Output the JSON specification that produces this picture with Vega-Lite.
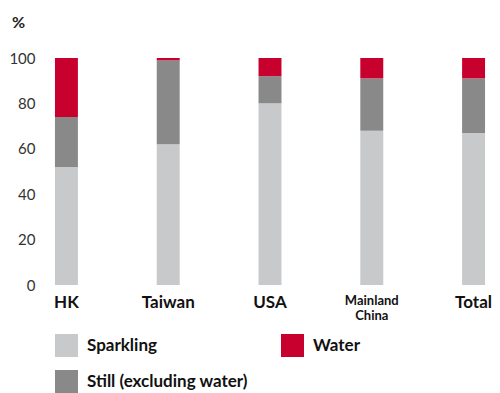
{
  "$schema": "https://vega.github.io/schema/vega-lite/v6.json",
  "autosize": {"type": "none"},
  "padding": {"left": 40, "top": 58, "right": 0, "bottom": 108},
  "width": 460,
  "height": 227,
  "background": "white",
  "config": {
    "view": {"stroke": null},
    "font": "Lato"
  },
  "data": {
    "values": [
      {"region": "HK", "type": "Sparkling", "share": 52},
      {"region": "HK", "type": "Still (excluding water)", "share": 22},
      {"region": "HK", "type": "Water", "share": 26},
      {"region": "Taiwan", "type": "Sparkling", "share": 62},
      {"region": "Taiwan", "type": "Still (excluding water)", "share": 37},
      {"region": "Taiwan", "type": "Water", "share": 1},
      {"region": "USA", "type": "Sparkling", "share": 80},
      {"region": "USA", "type": "Still (excluding water)", "share": 12},
      {"region": "USA", "type": "Water", "share": 8},
      {"region": "Mainland China", "type": "Sparkling", "share": 68},
      {"region": "Mainland China", "type": "Still (excluding water)", "share": 23},
      {"region": "Mainland China", "type": "Water", "share": 9},
      {"region": "Total", "type": "Sparkling", "share": 67},
      {"region": "Total", "type": "Still (excluding water)", "share": 24},
      {"region": "Total", "type": "Water", "share": 9}
    ]
  },
  "mark": {"type": "bar"},
  "encoding": {
    "x": {
      "field": "region",
      "type": "nominal",
      "sort": ["HK", "Taiwan", "USA", "Mainland China", "Total"],
      "scale": {"paddingInner": 0.7745, "paddingOuter": 0.147},
      "axis": {
        "title": null,
        "domain": false,
        "ticks": false,
        "labelAngle": 0,
        "labelPadding": 9,
        "labelBaseline": "top",
        "labelFontWeight": "bold",
        "labelColor": "#111111",
        "labelFontSize": {"condition": {"test": "datum.value == 'Mainland China'", "value": 13}, "value": 17},
        "labelLineHeight": 15,
        "labelExpr": "datum.value == 'Mainland China' ? ['Mainland', 'China'] : datum.value"
      }
    },
    "y": {
      "field": "share",
      "type": "quantitative",
      "stack": "zero",
      "scale": {"domain": [0, 100], "nice": false},
      "axis": {
        "title": "%",
        "titleAngle": 0,
        "titleX": -22,
        "titleY": -36,
        "titleAlign": "center",
        "titleBaseline": "middle",
        "titleFontSize": 16,
        "titleFontWeight": "bold",
        "titleColor": "#222222",
        "domain": false,
        "ticks": false,
        "grid": false,
        "values": [0, 20, 40, 60, 80, 100],
        "labelPadding": 5,
        "labelFontSize": 15,
        "labelColor": "#333333"
      }
    },
    "order": {"field": "type", "type": "nominal", "sort": "ascending"},
    "color": {
      "field": "type",
      "type": "nominal",
      "scale": {
        "domain": ["Sparkling", "Still (excluding water)", "Water"],
        "range": ["#c8c9cb", "#898989", "#c8002d"]
      },
      "legend": {
        "title": null,
        "orient": "none",
        "legendX": 15,
        "legendY": 276,
        "columns": 2,
        "columnPadding": 33,
        "rowPadding": 13,
        "padding": 0,
        "symbolType": "square",
        "symbolSize": 529,
        "symbolStrokeWidth": 0,
        "symbolOpacity": 1,
        "labelFontSize": 17,
        "labelFontWeight": "bold",
        "labelColor": "#111111",
        "labelOffset": 9,
        "labelLimit": 300
      }
    }
  }
}
